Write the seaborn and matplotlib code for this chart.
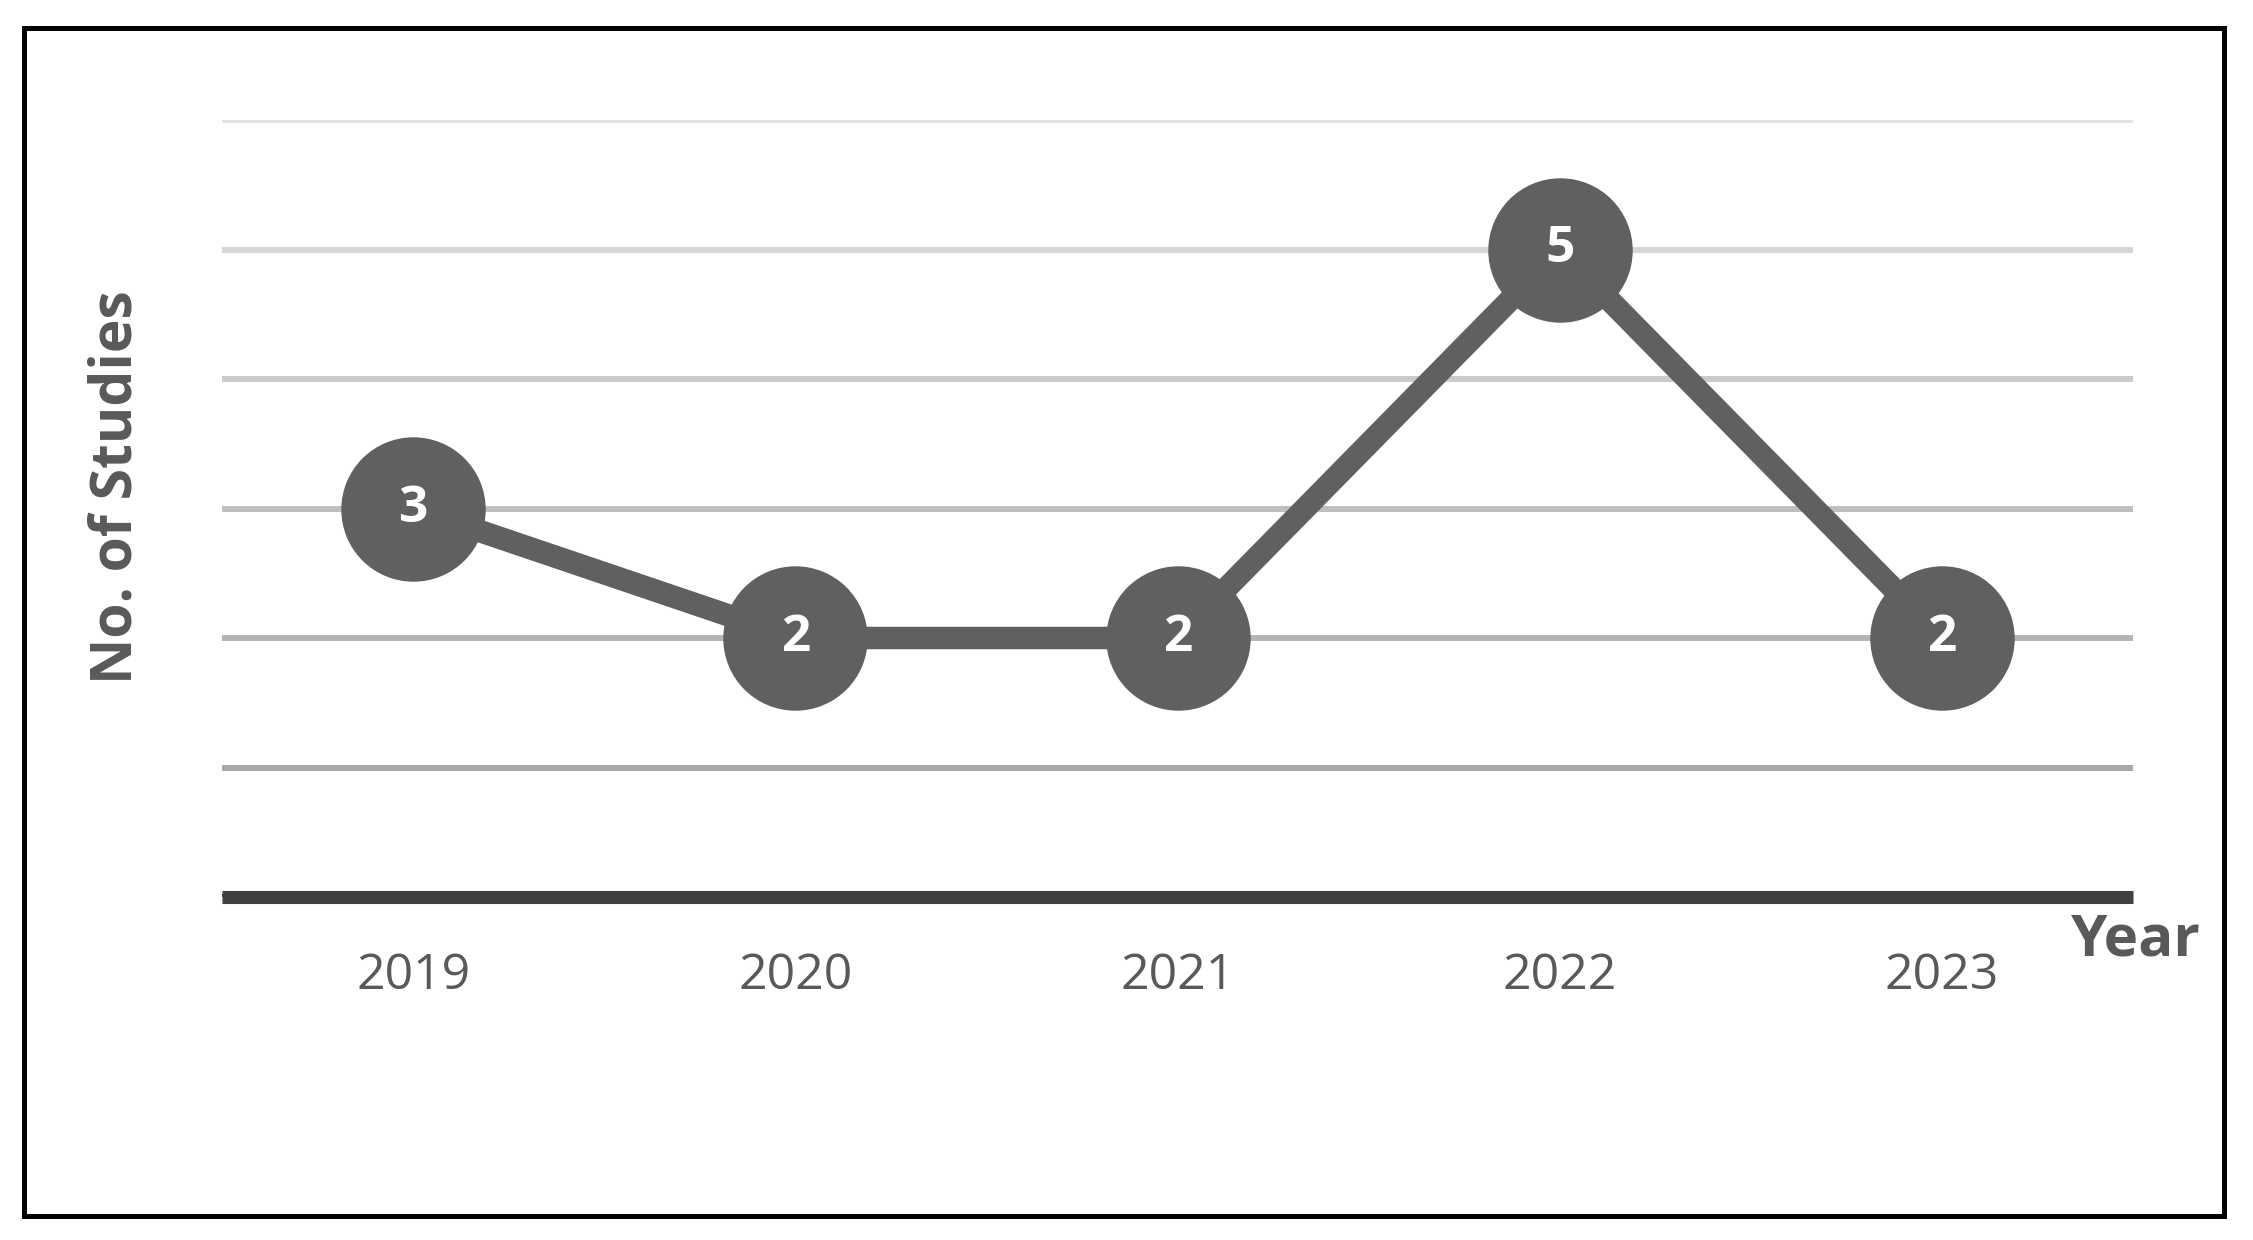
import matplotlib
matplotlib.use("Agg")
import matplotlib.pyplot as plt
import seaborn as sns
import pandas as pd
from matplotlib.patches import Rectangle

years = ["2019", "2020", "2021", "2022", "2023"]
studies = [3, 2, 2, 5, 2]
y_ticks = [0, 1, 2, 3, 4, 5, 6]
grid_colors = ["#404040", "#a9a9a9", "#b4b4b4", "#bfbfbf", "#cacaca", "#d6d6d6", "#e4e4e4"]

sns.set_theme(style="white")
plt.rcParams["font.family"] = ["Open Sans", "DejaVu Sans"]

W, H, DPI = 2253, 1240, 100
fig = plt.figure(figsize=(W / DPI, H / DPI), dpi=DPI)
fig.patch.set_facecolor("white")

ax = fig.add_axes([222 / W, 1 - 897 / H, (2133 - 222) / W, (897 - 120) / H])
ax.set_facecolor("white")

df = pd.DataFrame({"Year": years, "Studies": studies})
sns.pointplot(data=df, x="Year", y="Studies", color="#606060", markers="o",
              markersize=104, markeredgewidth=0, linewidth=16.2, errorbar=None,
              ax=ax, zorder=3)

ax.set_xlim(-0.5, len(years) - 0.5)
ax.set_ylim(0, 6)
ax.set_yticks(y_ticks)
ax.yaxis.grid(True, linewidth=4.3)
for gl, c in zip(ax.get_ygridlines(), grid_colors):
    gl.set_color(c)
ax.set_axisbelow(True)
ax.tick_params(axis="y", left=False, labelleft=False)
ax.tick_params(axis="x", bottom=False, pad=33, labelsize=36, labelcolor="#595959")
for s in ["left", "right", "top"]:
    ax.spines[s].set_visible(False)
ax.spines["bottom"].set_linewidth(9.4)
ax.spines["bottom"].set_color("#404040")
ax.spines["bottom"].set_capstyle("butt")
ax.set_xlabel("")
ax.set_ylabel("")

for i, v in enumerate(studies):
    ax.text(i, v, str(v), ha="center", va="center", color="white",
            fontsize=37, fontweight="bold", zorder=5)

fig.text(2136 / W, 1 - 941 / H, "Year", ha="center", va="center",
         fontsize=42, fontweight="bold", color="#595959")
fig.text(116 / W, 1 - 487 / H, "No. of Studies", ha="center", va="center",
         rotation=90, fontsize=41, fontweight="bold", color="#595959")

fig.add_artist(Rectangle((23.5 / W, 1 - 1215.5 / H), (2223.5 - 23.5) / W,
                         (1215.5 - 27.5) / H, transform=fig.transFigure,
                         fill=False, edgecolor="black", linewidth=3.6))

fig.savefig("out.png", dpi=DPI, facecolor="white")
